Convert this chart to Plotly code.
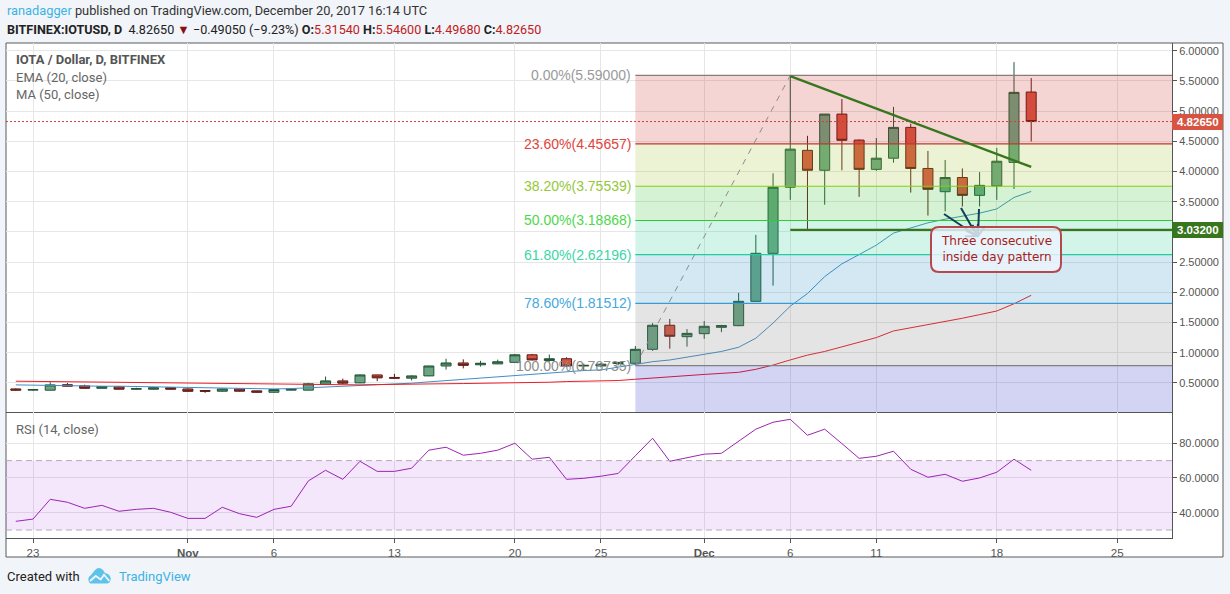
import math
import pandas as pd
import plotly.graph_objects as go

W, H = 1230, 594
dates = pd.date_range("2017-10-22", "2017-12-20", freq="D").strftime("%Y-%m-%d").tolist()

opens = [.40,.38,.379,.47,.45,.41,.434,.395,.395,.42,.40,.373,.362,.40,.368,.345,.38,.38,.478,.533,.50,.632,.59,.578,.616,.78,.83,.80,.815,.84,.965,.87,.90,.78,.78,.82,.825,
         1.056,1.454,1.265,1.315,1.42,1.447,1.85,2.645,3.74,4.35,4.02,4.95,4.52,4.035,4.22,4.73,4.05,3.665,3.90,3.605,3.76,4.15,5.3154]
highs = [.41,.395,.51,.50,.47,.445,.445,.42,.425,.43,.41,.38,.41,.41,.37,.40,.40,.50,.605,.57,.64,.635,.65,.625,.785,.90,.89,.865,.885,.98,.98,.97,.925,.82,.83,.85,1.11,
         1.49,1.558,1.39,1.525,1.46,1.99,2.95,3.97,5.59,4.59,4.95,5.20,4.53,4.555,5.07,4.79,4.34,4.19,4.05,3.99,4.39,5.81,5.546]
lows = [.37,.37,.375,.44,.405,.41,.39,.385,.39,.39,.355,.335,.355,.355,.34,.34,.375,.375,.475,.48,.495,.528,.575,.54,.61,.72,.74,.77,.81,.84,.87,.85,.76,.70,.76,.79,.81,
        1.03,1.066,1.10,1.23,1.34,1.44,1.85,2.11,3.53,3.04,3.45,4.02,3.58,4.01,4.145,3.65,3.27,3.34,3.42,3.42,3.53,3.71,4.4968]
closes = [.38,.39,.467,.445,.41,.44,.395,.405,.42,.395,.36,.362,.40,.362,.345,.39,.395,.485,.533,.495,.632,.583,.578,.616,.78,.83,.79,.825,.85,.965,.88,.90,.78,.79,.81,.835,1.056,
          1.454,1.272,1.32,1.437,1.45,1.85,2.645,3.74,4.37,4.02,4.95,4.516,4.035,4.22,4.73,4.05,3.705,3.90,3.605,3.77,4.17,5.31,4.8265]

ema20 = [.467,.461,.456,.456,.45,.445,.445,.44,.434,.428,.423,.417,.412,.406,.40,.40,.406,.417,.428,.445,.456,.467,.478,.495,.517,.539,.555,.572,.594,.621,.649,.671,.693,.704,.715,.757,.808,
         .851,.879,.93,.973,1.02,1.09,1.24,1.49,1.77,1.98,2.26,2.47,2.62,2.78,2.98,3.065,3.15,3.21,3.26,3.31,3.38,3.57,3.67]
ma50 = [.528,.525,.522,.517,.511,.511,.508,.505,.505,.50,.494,.494,.489,.483,.478,.472,.472,.467,.467,.467,.467,.472,.478,.483,.483,.486,.489,.492,.494,.497,.505,.511,.522,.528,.533,.539,.56,
        .576,.60,.62,.64,.66,.675,.725,.795,.88,.96,1.02,1.10,1.17,1.25,1.36,1.41,1.46,1.51,1.57,1.63,1.69,1.81,1.95]
rsi14 = [35.0,36.3,47.7,46.0,42.5,44.2,40.8,41.9,42.5,40.2,36.7,36.7,43.1,39.4,37.3,41.9,43.7,58.3,64.4,59.2,69.6,63.8,63.8,65.6,76.0,77.7,73.1,74.2,76.0,80.0,70.8,71.9,59.2,59.8,61.0,62.6,72.8,
         82.9,69.6,71.5,73.7,74.2,81.2,88.1,92.1,93.8,84.6,88.1,79.8,71.3,72.5,75.4,65.0,60.4,62.1,58.1,60.0,63.3,70.8,64.4]

fib_pct = ["0.00%", "23.60%", "38.20%", "50.00%", "61.80%", "78.60%", "100.00%"]
fib_val = [5.59, 4.45657, 3.75539, 3.18868, 2.62196, 1.81512, 0.78735]
fib_line = ["#8a7a7a", "#c0392f", "#84cc16", "#2ecc2e", "#1fcf9f", "#3a9bd0", "#808080"]
fib_text = ["#9a9a9a", "#e0443c", "#93c83a", "#4cd84c", "#3cd6a6", "#45a8e0", "#8c8c8c"]
fib_fill = ["rgba(200,45,35,.2)", "rgba(155,195,40,.2)", "rgba(45,195,40,.2)", "rgba(35,200,140,.2)",
            "rgba(35,140,195,.2)", "rgba(120,120,120,.2)", "rgba(35,35,195,.2)"]

x_tick_vals = ["2017-10-23", "2017-11-01", "2017-11-06", "2017-11-13", "2017-11-20", "2017-11-25",
               "2017-12-01", "2017-12-06", "2017-12-11", "2017-12-18", "2017-12-25"]
x_tick_text = ["23", "<b>Nov</b>", "6", "13", "20", "25", "<b>Dec</b>", "6", "11", "18", "25"]
price_ticks = [.5, 1, 1.5, 2, 2.5, 3, 3.5, 4, 4.5, 5, 5.5, 6]
rsi_ticks = [40, 60, 80]

X_RANGE = ["2017-10-21 10:20", "2017-12-28 04:20"]
Y_RANGE = [0.018, 6.127]
R_RANGE = [25.4, 98.0]
FIB_START = "2017-11-27"
LAST_CLOSE = closes[-1]
SUPPORT = 3.032
FONT = "Roboto"
AX = "Liberation Sans"

px = lambda v: v / W
py = lambda v: 1 - v / H

fig = go.Figure()
fig.add_trace(go.Candlestick(x=dates, open=opens, high=highs, low=lows, close=closes, xaxis="x", yaxis="y",
    increasing=dict(line=dict(color="#225437", width=1), fillcolor="#6ba583"),
    decreasing=dict(line=dict(color="#5b1a13", width=1), fillcolor="#d75442"),
    whiskerwidth=0, showlegend=False))
fig.add_trace(go.Scatter(x=dates, y=ema20, mode="lines", line=dict(color="#3f8fc4", width=1), xaxis="x", yaxis="y", showlegend=False))
fig.add_trace(go.Scatter(x=dates, y=ma50, mode="lines", line=dict(color="#ee1c25", width=1), xaxis="x", yaxis="y", showlegend=False))
fig.add_trace(go.Scatter(x=dates, y=rsi14, mode="lines", line=dict(color="#9c27b0", width=1), xaxis="x2", yaxis="y2", showlegend=False))

shapes = []
shapes.append(dict(type="rect", xref="paper", yref="paper", x0=px(6), x1=px(1223), y0=py(557), y1=py(43),
                   fillcolor="white", line=dict(color="#5a5a5a", width=1), layer="below"))
bounds = fib_val + [Y_RANGE[0]]
for i, f in enumerate(fib_fill):
    shapes.append(dict(type="rect", xref="x", yref="y", x0=FIB_START, x1=X_RANGE[1], y0=bounds[i + 1], y1=bounds[i],
                       fillcolor=f, line=dict(width=0), layer="above"))
for v, c in zip(fib_val, fib_line):
    shapes.append(dict(type="line", xref="x", yref="y", x0=FIB_START, x1=X_RANGE[1], y0=v, y1=v,
                       line=dict(color=c, width=1.2), layer="above"))
shapes.append(dict(type="line", xref="x", yref="y", x0=X_RANGE[0], x1=X_RANGE[1], y0=LAST_CLOSE, y1=LAST_CLOSE,
                   line=dict(color="#c9403a", width=1, dash="2px,2px"), layer="above"))
shapes.append(dict(type="line", xref="x", yref="y", x0=FIB_START, x1="2017-12-06", y0=fib_val[-1], y1=fib_val[0],
                   line=dict(color="#8c8c8c", width=1, dash="6px,6px"), layer="above"))
shapes.append(dict(type="line", xref="x", yref="y", x0="2017-12-06", x1="2017-12-20", y0=5.58, y1=4.075,
                   line=dict(color="#38761d", width=2.4), layer="above"))
shapes.append(dict(type="line", xref="x", yref="y", x0="2017-12-06", x1=X_RANGE[1], y0=SUPPORT, y1=SUPPORT,
                   line=dict(color="#38761d", width=2.2), layer="above"))
shapes.append(dict(type="rect", xref="x2", yref="y2", x0=X_RANGE[0], x1=X_RANGE[1], y0=30, y1=70,
                   fillcolor="rgba(155,30,220,.11)", line=dict(width=0), layer="above"))
for lv in (30, 70):
    shapes.append(dict(type="line", xref="x2", yref="y2", x0=X_RANGE[0], x1=X_RANGE[1], y0=lv, y1=lv,
                       line=dict(color="#b5adb8", width=1, dash="6px,4px"), layer="above"))

def arrow(x0, y0, x1, y1, color="#113f55"):
    a = math.atan2(y1 - y0, x1 - x0)
    h = 12
    p1 = (x1 - h * math.cos(a - .6), y1 - h * math.sin(a - .6))
    p2 = (x1 - h * math.cos(a + .6), y1 - h * math.sin(a + .6))
    path = (f"M {px(x0)} {py(y0)} L {px(x1)} {py(y1)} M {px(p1[0])} {py(p1[1])} L {px(x1)} {py(y1)} L {px(p2[0])} {py(p2[1])}")
    return dict(type="path", xref="paper", yref="paper", path=path, line=dict(color=color, width=2), layer="above")

shapes += [arrow(944, 214, 977, 236), arrow(961, 208, 977, 236), arrow(979, 209, 978, 236)]

def rrect(x0, y0, x1, y1, r):
    return (f"M {px(x0+r)} {py(y0)} L {px(x1-r)} {py(y0)} Q {px(x1)} {py(y0)} {px(x1)} {py(y0+r)} "
            f"L {px(x1)} {py(y1-r)} Q {px(x1)} {py(y1)} {px(x1-r)} {py(y1)} "
            f"L {px(x0+r)} {py(y1)} Q {px(x0)} {py(y1)} {px(x0)} {py(y1-r)} "
            f"L {px(x0)} {py(y0+r)} Q {px(x0)} {py(y0)} {px(x0+r)} {py(y0)} Z")

shapes.append(dict(type="path", xref="paper", yref="paper", path=rrect(931, 227, 1061, 272, 8),
                   fillcolor="rgba(235,244,252,.82)", line=dict(color="#b5484c", width=2), layer="above"))

def tag(y0, y1, color):
    return dict(type="rect", xref="paper", yref="paper", x0=px(1172), x1=px(1223), y0=py(y1), y1=py(y0),
                fillcolor=color, line=dict(width=0), layer="above")
shapes += [tag(114, 130, "#d75442"), tag(222, 238, "#38761d")]

def pixel_path(s):
    out, is_x = [], True
    for tok in s.split():
        if tok.isalpha():
            out.append(tok); is_x = True
        else:
            out.append(str(px(float(tok)) if is_x else py(float(tok)))); is_x = not is_x
    return " ".join(out)

logo_cloud = "M 90 583.5 Q 86 578 91 575 L 95 570 Q 99 566 103 570 L 105 573 Q 110 574 110.7 578 Q 111 583.5 106 583.5 Z"
logo_zig = "M 90 581 L 95.7 576 L 100.7 579.5 L 104 574.7 L 109.3 581"
shapes.append(dict(type="path", xref="paper", yref="paper", path=pixel_path(logo_cloud), fillcolor="#5ec3ea", line=dict(width=0), layer="above"))
shapes.append(dict(type="path", xref="paper", yref="paper", path=pixel_path(logo_zig), line=dict(color="#f1f4f8", width=1.8), layer="above"))

ann = []
def label(x, y, text, color="#555", size=13, anchor="left"):
    ann.append(dict(xref="paper", yref="paper", x=px(x), y=py(y), text=text, showarrow=False, xanchor=anchor, yanchor="middle",
                    font=dict(family=FONT, size=size, color=color), align="left", borderpad=0))

label(6, 11, '<span style="color:#3bb3e4">ranadagger</span> published on TradingView.com, December 20, 2017 16:14 UTC', "#333", 12.8)
label(6, 29, '<b>BITFINEX:IOTUSD, D</b>  4.82650 <span style="color:#8b0f0f">▼</span> −0.49050 (−9.23%) <b>O:</b>'
             '<span style="color:#c0201c">5.31540</span> <b>H:</b><span style="color:#c0201c">5.54600</span> '
             '<b>L:</b><span style="color:#c0201c">4.49680</span> <b>C:</b><span style="color:#c0201c">4.82650</span>', "#222", 12.6)
label(15, 60, "<b>IOTA / Dollar, D, BITFINEX</b>", "#555")
label(15, 77, "EMA (20, close)", "#666")
label(15, 94, "MA (50, close)", "#666")
label(15, 429, "RSI (14, close)", "#666")
label(6, 576, "Created with", "#222")
label(118, 576, "TradingView", "#3bb3e4")

for p, v, c in zip(fib_pct, fib_val, fib_text):
    ann.append(dict(xref="x", yref="y", x=FIB_START, y=v, text=f"{p}({v:.5f})", showarrow=False, xanchor="right", yanchor="middle",
                    xshift=-2, font=dict(family=AX, size=14, color=c)))

ann.append(dict(xref="paper", yref="paper", x=px(996), y=py(249), text="Three consecutive<br>inside day pattern", showarrow=False,
                xanchor="center", yanchor="middle",
                font=dict(family="DejaVu Sans", size=12, color="#a61c1c"), align="center"))
for val, yc in ((LAST_CLOSE, 122), (SUPPORT, 230)):
    ann.append(dict(xref="paper", yref="paper", x=px(1198), y=py(yc), text=f"<b>{val:.5f}</b>", showarrow=False,
                    xanchor="center", yanchor="middle", font=dict(family=AX, size=11.5, color="white")))

axis_common = dict(showgrid=True, gridcolor="#e6e6e6", gridwidth=1, zeroline=False, showline=True, linecolor="#555", linewidth=1)
tf = dict(family=AX, size=11, color="#555")

fig.update_layout(
    width=W, height=H, autosize=False,
    margin=dict(l=0, r=0, t=0, b=0),
    paper_bgcolor="#f1f4f8", plot_bgcolor="white",
    boxgap=.42, boxgroupgap=0,
    shapes=shapes, annotations=ann, hovermode=False,
    xaxis=dict(domain=[px(6), px(1172)], range=X_RANGE, type="date", rangeslider=dict(visible=False),
               tickmode="array", tickvals=x_tick_vals, ticktext=[""] * len(x_tick_vals), anchor="y", **axis_common),
    xaxis2=dict(domain=[px(6), px(1172)], range=X_RANGE, type="date", matches="x",
                tickmode="array", tickvals=x_tick_vals, ticktext=x_tick_text, anchor="y2", ticks="outside", ticklen=4,
                tickcolor="#555", tickfont=dict(family=AX, size=11.5, color="#555"), **axis_common),
    yaxis=dict(domain=[py(412), py(43)], range=Y_RANGE, side="right", anchor="x", tickmode="array", tickvals=price_ticks,
               tickformat=".5f", ticks="outside", ticklen=4, tickcolor="#555", tickfont=tf, **axis_common),
    yaxis2=dict(domain=[py(538), py(412)], range=R_RANGE, side="right", anchor="x2", tickmode="array", tickvals=rsi_ticks,
                tickformat=".4f", ticks="outside", ticklen=4, tickcolor="#555", tickfont=tf, **axis_common),
)

fig.write_html("out.html", config={"displayModeBar": False},
               post_script="document.body.style.margin='0';document.body.style.overflow='hidden';")
